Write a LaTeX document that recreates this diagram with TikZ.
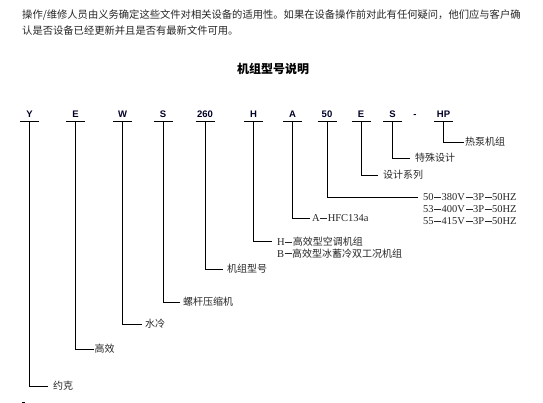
\documentclass[tikz,border=0pt]{standalone}
\usepackage{fontspec}
\setmainfont{Liberation Serif}
\newfontfamily\cjk{Noto Sans CJK SC}
\newfontfamily\codefont{Liberation Sans}
\newcommand\dsh{\makebox[8pt]{\rule[3.6pt]{7pt}{0.55pt}}}
\tikzset{
  codetext/.style={font=\codefont\bfseries\fontsize{9.5}{11}\selectfont, text=black!85!blue, inner sep=0pt},
  uline/.style={line width=0.9pt},
  branch/.style={line width=0.9pt},
  lbl/.style={font=\cjk\fontsize{10}{12}\selectfont, anchor=west, inner sep=0pt, text=black!85},
  lat/.style={font=\rmfamily\fontsize{10.5}{12}\selectfont, anchor=west, inner sep=0pt, text=black!85},
}
\begin{document}
\begin{tikzpicture}[x=1pt,y=-1pt]
\useasboundingbox (0,0) rectangle (543,403);
% intro text
\node[lbl, font=\cjk\fontsize{10.3}{12}\selectfont] (t1) at (22,15) {操作/维修人员由义务确定这些文件对相关设备的适用性。如果在设备操作前对此有任何疑问，他们应与客户确};
\node[lbl, font=\cjk\fontsize{10.3}{12}\selectfont] (t2) at (22,31) {认是否设备已经更新并且是否有最新文件可用。};
% title
\node[font=\cjk\bfseries\fontsize{12}{14}\selectfont, inner sep=0pt] (title) at (273,69) {机组型号说明};
% code letters
\foreach \n/\x/\t in {cY/29.5/Y, cE/75.5/E, cW/122.5/W, cS/163/S, cN/205/260, cH/253.5/H, cA/292.5/A, cF/327/50, cE2/361/E, cS2/392.5/S, cD/415/-, cHP/443.5/HP}{
  \node[codetext, anchor=base] (\n) at (\x,117.5) {\t};
}
% underline coordinates and underlines
\foreach \n/\x in {Y/29.5, E/75.5, W/122.5, S/163, N/205, H/253.5, A/292.5, F/327, E2/361, S2/392.5, HP/443.5}{
  \coordinate (u\n) at (\x,121);
  \draw[uline] ([xshift=-9.5pt]u\n) -- ([xshift=9.5pt]u\n);
}
% labels
\node[lbl] (lY) at (48,386) {\hspace{5pt}约克};
\node[lbl] (lE) at (94,349) {\hspace{0.5pt}高效};
\node[lbl] (lW) at (142,324) {\hspace{3pt}水冷};
\node[lbl] (lS) at (180,302) {\hspace{3pt}螺杆压缩机};
\node[lbl] (lN) at (223,269) {\hspace{4pt}机组型号};
\node[lbl] (lH) at (272,242) {\hspace{5pt}{\rmfamily\fontsize{10.5}{12}\selectfont H\dsh}高效型空调机组};
\node[lbl] (lH2) at (272,253.5) {\hspace{5pt}{\rmfamily\fontsize{10.5}{12}\selectfont B\dsh}高效型冰蓄冷双工况机组};
\node[lat] (lA) at (310,218.5) {\hspace{2pt}A\dsh HFC134a};
\node[lat] (lF) at (418,197.5) {\hspace{5pt}50\dsh 380V\dsh 3P\dsh 50HZ};
\node[lat] (lF2) at (418,209.5) {\hspace{5pt}53\dsh 400V\dsh 3P\dsh 50HZ};
\node[lat] (lF3) at (418,221.5) {\hspace{5pt}55\dsh 415V\dsh 3P\dsh 50HZ};
\node[lbl] (lE2) at (378,175) {\hspace{5pt}设计系列};
\node[lbl] (lS2) at (410,158) {\hspace{5pt}特殊设计};
\node[lbl] (lHP) at (464,142) {\hspace{1pt}热泵机组};
% branches
\draw[branch] (uY) |- (lY.west);
\draw[branch] (uE) |- (lE.west);
\draw[branch] (uW) |- (lW.west);
\draw[branch] (uS) |- (lS.west);
\draw[branch] (uN) |- (lN.west);
\draw[branch] (uH) |- ([yshift=1pt]lH.west);
\draw[branch] (uA) |- ([yshift=0.5pt]lA.west);
\draw[branch] (uF) |- ([yshift=0.5pt]lF.west);
\draw[branch] (uE2) |- (lE2.west);
\draw[branch] (uS2) |- (lS2.west);
\draw[branch] (uHP) |- (lHP.west);
% small mark at bottom
\coordinate (m1) at (22,402);
\coordinate (m2) at (25,402);
\draw[line width=1pt] (m1) -- (m2);
\end{tikzpicture}
\end{document}
